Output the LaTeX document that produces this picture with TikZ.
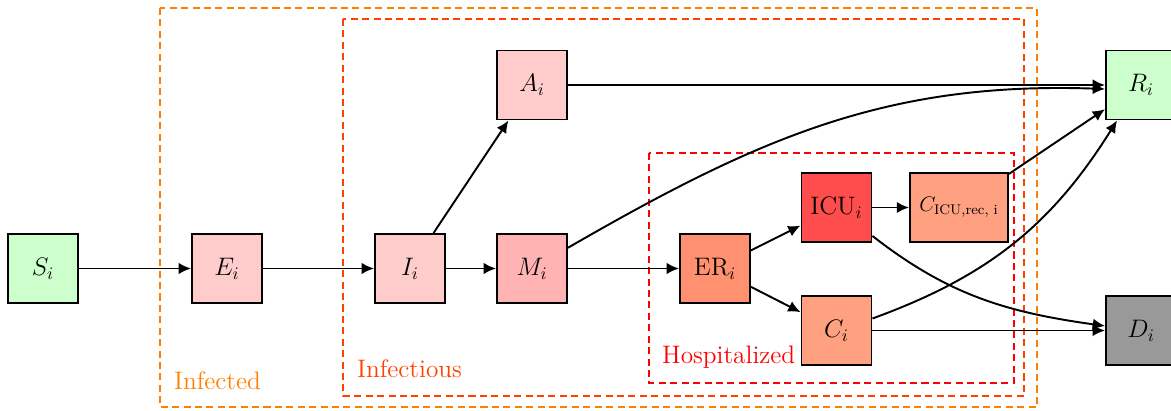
\documentclass[tikz,border=0pt]{standalone}
\usepackage{amsmath}
\renewcommand{\rmdefault}{ppl}
\usetikzlibrary{arrows.meta}
\definecolor{cgreen}{RGB}{204,255,204}
\definecolor{cpink}{RGB}{255,204,204}
\definecolor{cpinkd}{RGB}{255,179,179}
\definecolor{cer}{RGB}{255,145,112}
\definecolor{cicu}{RGB}{255,77,77}
\definecolor{csal}{RGB}{255,160,128}
\definecolor{cgray}{RGB}{153,153,153}
\definecolor{corange}{RGB}{255,128,0}
\definecolor{cred}{RGB}{255,0,0}
\definecolor{cmid}{RGB}{255,64,0}
\tikzset{
  box/.style={draw=black,line width=1.1pt,minimum width=1.4cm,minimum height=1.38cm,inner sep=1pt,font=\Large},
  arr/.style={-{Latex[length=7pt,width=6.5pt]},line width=1.1pt},
  zone/.style={dash pattern=on 4pt off 2.5pt,line width=0.9pt},
  lbl/.style={font=\Large,anchor=west}
}
\begin{document}
\begin{tikzpicture}[x=0.02cm,y=-0.02cm]
\useasboundingbox (0,0) rectangle (1171,411);
% zones
\draw[zone,corange] (160,8) rectangle (1037,407);
\draw[zone,cmid] (343,19) rectangle (1024,396);
\draw[zone,cred] (649,153) rectangle (1014,383);
\node[lbl,text=corange] (lInf) at (168,381) {Infected};
\node[lbl,text=cmid] (lInfc) at (351,369) {Infectious};
\node[lbl,text=cred] (lHosp) at (656,357) {Hospitalized};
% nodes
\node[box,fill=cgreen] (S) at (43,268.5) {$S_i$};
\node[box,fill=cpink] (E) at (227,268.5) {$E_i$};
\node[box,fill=cpink] (I) at (410,268.5) {$I_i$};
\node[box,fill=cpinkd] (M) at (532,268.5) {$M_i$};
\node[box,fill=cpink] (A) at (532,85) {$A_i$};
\node[box,fill=cer] (ER) at (715,268.5) {ER$_i$};
\node[box,fill=cicu] (ICU) at (836.5,207.5) {ICU$_i$};
\node[box,fill=csal,minimum width=1.96cm,font=\large] (CICU) at (959,207.5) {$C_{\text{ICU,rec, i}}$};
\node[box,fill=csal] (C) at (836.5,330.5) {$C_i$};
\node[box,fill=cgreen] (R) at (1141,85) {$R_i$};
\node[box,fill=cgray] (D) at (1141,330.5) {$D_i$};
% edges
\draw[arr] (S) -- (E);
\draw[arr] (E) -- (I);
\draw[arr] (I) -- (M);
\draw[arr] (I) -- (A);
\draw[arr] (M) -- (ER);
\draw[arr] (A) -- (R);
\draw[arr] (M) to[out=30,in=178] ([yshift=-0.08cm]R.west);
\draw[arr] (ER) -- (ICU);
\draw[arr] (ER) -- (C);
\draw[arr] (ICU) -- (CICU);
\draw[arr] (CICU) -- (R);
\draw[arr] ([yshift=0.24cm]C.east) to[out=20,in=-122] ([xshift=0.24cm]R.south west);
\draw[arr] (C) -- (D);
\draw[arr] ([yshift=0.14cm]ICU.south east) to[out=-38,in=172] ([yshift=0.09cm]D.west);
\end{tikzpicture}
\end{document}
